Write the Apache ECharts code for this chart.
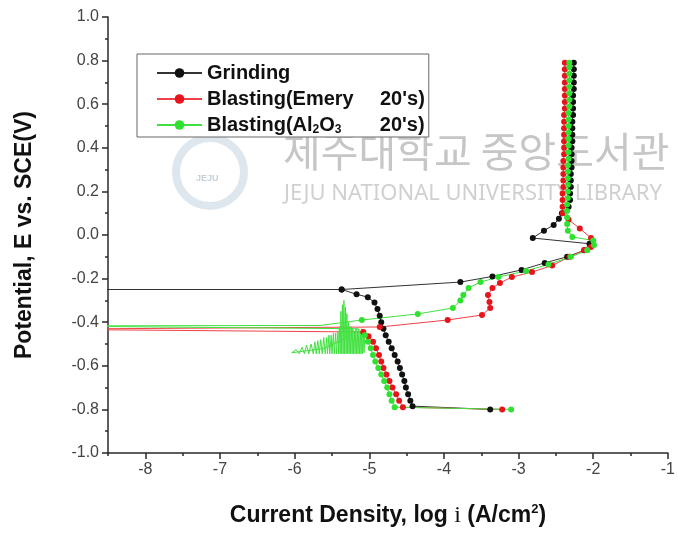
<!DOCTYPE html>
<html>
<head>
<meta charset="utf-8">
<script src="https://cdn.jsdelivr.net/npm/echarts@6/dist/echarts.min.js"></script>
<style>
    html, body { margin: 0; padding: 0; background: #fff; }
    #chart { width: 678px; height: 533px; }
</style>
</head>
<body>
<div id="chart"></div>
<script type="text/javascript">
    // series names (legend)
    var seriesNames = ['Grinding', 'Blasting(Emery 20\'s)', 'Blasting(Al2O3 20\'s)'];
    var xTickValues = [-8, -7, -6, -5, -4, -3, -2, -1];
    var xHalfTicks = [-8.5, -7.5, -6.5, -5.5, -4.5, -3.5, -2.5, -1.5];

    // [log i, E] pairs
    var grinding = [
        [-3.38, -0.80], [-4.42, -0.785],
        [-4.45, -0.76], [-4.48, -0.73], [-4.51, -0.70], [-4.53, -0.67], [-4.56, -0.64], [-4.59, -0.61],
        [-4.62, -0.58], [-4.66, -0.55], [-4.70, -0.52], [-4.74, -0.49], [-4.78, -0.46], [-4.81, -0.43],
        [-4.84, -0.40], [-4.86, -0.37], [-4.89, -0.34], [-4.93, -0.31], [-5.02, -0.285], [-5.17, -0.272],
        [-5.37, -0.25], [-9.5, -0.25], [-5.37, -0.25],
        [-3.78, -0.216], [-3.35, -0.19], [-2.96, -0.16], [-2.65, -0.128], [-2.35, -0.10], [-2.12, -0.07], [-2.05, -0.04],
        [-2.81, -0.014], [-2.66, 0.02], [-2.53, 0.046], [-2.46, 0.075], [-2.42, 0.10], [-2.33, 0.13],
        [-2.31, 0.16], [-2.31, 0.19], [-2.30, 0.22], [-2.30, 0.25], [-2.30, 0.28], [-2.29, 0.31], [-2.29, 0.34],
        [-2.29, 0.37], [-2.29, 0.40], [-2.28, 0.43], [-2.28, 0.46], [-2.28, 0.49], [-2.28, 0.52], [-2.27, 0.55],
        [-2.27, 0.58], [-2.27, 0.61], [-2.27, 0.64], [-2.26, 0.67], [-2.26, 0.70], [-2.26, 0.73], [-2.26, 0.76],
        [-2.26, 0.79]
    ];
    var emery = [
        [-3.22, -0.80], [-4.55, -0.79],
        [-4.60, -0.76], [-4.64, -0.73], [-4.69, -0.70], [-4.73, -0.67], [-4.77, -0.64], [-4.81, -0.61],
        [-4.84, -0.58], [-4.87, -0.55], [-4.91, -0.52], [-4.95, -0.49], [-5.01, -0.465], [-5.08, -0.445],
        [-9.5, -0.432],
        [-4.86, -0.422], [-3.95, -0.39], [-3.49, -0.367], [-3.38, -0.335], [-3.39, -0.307], [-3.41, -0.275],
        [-3.35, -0.243], [-3.25, -0.22], [-3.09, -0.193], [-2.82, -0.17], [-2.55, -0.14], [-2.32, -0.10],
        [-2.12, -0.069], [-2.03, -0.055], [-2.03, -0.014], [-2.18, 0.03], [-2.33, 0.07], [-2.41, 0.10],
        [-2.41, 0.13], [-2.41, 0.16], [-2.41, 0.19], [-2.40, 0.22], [-2.40, 0.25], [-2.40, 0.28], [-2.40, 0.31],
        [-2.40, 0.34], [-2.39, 0.37], [-2.39, 0.40], [-2.39, 0.43], [-2.39, 0.46], [-2.39, 0.49], [-2.39, 0.52],
        [-2.39, 0.55], [-2.38, 0.58], [-2.38, 0.61], [-2.38, 0.64], [-2.38, 0.67], [-2.38, 0.70], [-2.38, 0.73],
        [-2.38, 0.76], [-2.38, 0.79]
    ];
    var aluminaCathodic = [
        [-3.10, -0.80], [-4.66, -0.79],
        [-4.70, -0.76], [-4.73, -0.73], [-4.76, -0.70], [-4.80, -0.67], [-4.84, -0.64], [-4.88, -0.61],
        [-4.92, -0.58], [-4.95, -0.55], [-4.98, -0.52], [-5.02, -0.49], [-5.06, -0.46]
    ];
    // noisy band near the corrosion potential
    var aluminaNoise = [
        [-5.07, -0.54], [-5.08, -0.44], [-5.09, -0.545], [-5.10, -0.43], [-5.11, -0.545], [-5.12, -0.44],
        [-5.13, -0.545], [-5.14, -0.43], [-5.15, -0.545], [-5.16, -0.44], [-5.17, -0.545], [-5.18, -0.43],
        [-5.19, -0.545], [-5.20, -0.44], [-5.21, -0.545], [-5.22, -0.43], [-5.23, -0.545], [-5.24, -0.42],
        [-5.25, -0.545], [-5.26, -0.42], [-5.27, -0.545], [-5.28, -0.40], [-5.29, -0.545], [-5.30, -0.36],
        [-5.31, -0.545], [-5.32, -0.33], [-5.33, -0.545], [-5.34, -0.30], [-5.35, -0.545], [-5.36, -0.32],
        [-5.37, -0.545], [-5.38, -0.35], [-5.39, -0.545], [-5.40, -0.42], [-5.41, -0.545], [-5.42, -0.44],
        [-5.44, -0.545], [-5.45, -0.45], [-5.47, -0.545], [-5.48, -0.45], [-5.50, -0.545], [-5.51, -0.46],
        [-5.53, -0.545], [-5.54, -0.46], [-5.56, -0.545], [-5.57, -0.47], [-5.59, -0.545], [-5.61, -0.47],
        [-5.63, -0.545], [-5.65, -0.48], [-5.67, -0.545], [-5.69, -0.485], [-5.71, -0.545], [-5.73, -0.49],
        [-5.75, -0.545], [-5.78, -0.50], [-5.81, -0.545], [-5.84, -0.505], [-5.87, -0.545], [-5.90, -0.515],
        [-5.94, -0.545], [-5.98, -0.525], [-6.04, -0.54], [-5.60, -0.52], [-5.30, -0.47], [-5.15, -0.43],
        [-9.5, -0.417], [-5.66, -0.415]
    ];
    var aluminaAnodic = [
        [-5.10, -0.39], [-4.35, -0.362], [-3.88, -0.335], [-3.78, -0.30], [-3.74, -0.275], [-3.67, -0.243],
        [-3.51, -0.216], [-3.27, -0.193], [-2.90, -0.165], [-2.60, -0.135], [-2.30, -0.10], [-2.08, -0.07],
        [-1.99, -0.046], [-2.00, -0.025], [-2.28, -0.009], [-2.34, 0.02],
        [-2.35, 0.05], [-2.35, 0.08], [-2.35, 0.11], [-2.35, 0.14], [-2.34, 0.17], [-2.34, 0.20], [-2.34, 0.23],
        [-2.34, 0.26], [-2.34, 0.29], [-2.34, 0.32], [-2.33, 0.35], [-2.33, 0.38], [-2.33, 0.41], [-2.33, 0.44],
        [-2.33, 0.47], [-2.33, 0.50], [-2.33, 0.53], [-2.33, 0.56], [-2.32, 0.59], [-2.32, 0.62], [-2.32, 0.65],
        [-2.32, 0.68], [-2.32, 0.71], [-2.32, 0.74], [-2.32, 0.77], [-2.32, 0.79]
    ];

    var colors = ['#111111', '#e8141c', '#2fe22f'];

    // noisy part of the Al2O3 curve is drawn without dots
    var aluminaData = aluminaCathodic
        .concat(aluminaNoise.map(function (p) { return { value: p, symbol: 'none' }; }))
        .concat(aluminaAnodic);

    function legendText(name) {
        if (name === seriesNames[0]) return '{a|Grinding}';
        if (name === seriesNames[1]) return '{w|Blasting(Emery}{a|20\'s)}';
        return '{a|Blasting(Al}{s|2}{a|O}{s3|3}{a|20\'s)}';
    }

    var tickFont = { fontFamily: 'Liberation Sans', fontSize: 16, color: '#444' };
    var boldTxt = { fontFamily: 'Liberation Sans', fontWeight: 'bold', fontSize: 23, color: '#111' };
    var axisInk = { color: '#2a2a2a', width: 1.5 };

    var myChart = echarts.init(document.getElementById('chart'));
    var option = {
        backgroundColor: '#fff',
        animation: false,
        color: colors,
        grid: { left: 108, right: 3, top: 17, bottom: 80 },
        graphic: [
            { type: 'circle', z: 0, shape: { cx: 210, cy: 172, r: 34 }, style: { fill: 'none', stroke: '#dde7ed', lineWidth: 8 } },
            { type: 'text', z: 0, left: 196, top: 174, style: { text: 'JEJU', font: 'bold 9px "Liberation Sans"', fill: '#c5d0d8' } },
            { type: 'text', z: 0, left: 283, top: 131, style: { text: '제주대학교 중앙도서관', font: '41px "Noto Sans CJK KR"', fill: '#c6c6c6' } },
            { type: 'text', z: 0, left: 284, top: 183, style: { text: 'JEJU NATIONAL UNIVERSITY LIBRARY', font: '22px "Noto Sans"', fill: '#d0d0d0' } }
        ],
        legend: {
            orient: 'vertical',
            left: 137,
            top: 54,
            data: seriesNames,
            itemWidth: 45,
            itemHeight: 12,
            itemGap: 4,
            padding: [8, 4, 1, 19],
            borderColor: '#666',
            borderWidth: 1,
            backgroundColor: '#fff',
            formatter: legendText,
            textStyle: {
                fontFamily: 'Liberation Sans', fontWeight: 'bold', fontSize: 20, color: '#111', lineHeight: 22,
                rich: {
                    a: { fontFamily: 'Liberation Sans', fontWeight: 'bold', fontSize: 20, lineHeight: 22, verticalAlign: 'middle', color: '#111' },
                    w: { fontFamily: 'Liberation Sans', fontWeight: 'bold', fontSize: 20, lineHeight: 22, verticalAlign: 'middle', color: '#111', width: 173, align: 'left' },
                    s: { fontFamily: 'Liberation Sans', fontWeight: 'bold', fontSize: 12, lineHeight: 8, verticalAlign: 'bottom', color: '#111' },
                    s3: { fontFamily: 'Liberation Sans', fontWeight: 'bold', fontSize: 12, lineHeight: 8, verticalAlign: 'bottom', color: '#111', width: 45, align: 'left' }
                }
            }
        },
        xAxis: [{
            type: 'value',
            min: -8.5,
            max: -1,
            splitLine: { show: false },
            axisLine: { onZero: false, lineStyle: axisInk },
            axisTick: { length: 6, customValues: xTickValues, lineStyle: axisInk },
            axisLabel: Object.assign({ margin: 9, customValues: xTickValues }, tickFont),
            name: '{t|Current Density, log }{i|i}{t| (A/cm}{sup|2}{t|)}',
            nameLocation: 'middle',
            nameGap: 50,
            nameTextStyle: {
                rich: {
                    t: Object.assign({ lineHeight: 26, verticalAlign: 'middle' }, boldTxt),
                    i: { fontFamily: 'Liberation Serif', fontSize: 24, color: '#111', lineHeight: 26, verticalAlign: 'middle' },
                    sup: { fontFamily: 'Liberation Sans', fontWeight: 'bold', fontSize: 13, color: '#111', lineHeight: 8, verticalAlign: 'top' }
                }
            }
        }, {
            // short ticks at the half decades
            type: 'value',
            min: -8.5,
            max: -1,
            position: 'bottom',
            splitLine: { show: false },
            axisLine: { show: false, onZero: false },
            axisTick: { length: 3, customValues: xHalfTicks, lineStyle: axisInk },
            axisLabel: { show: false }
        }],
        yAxis: {
            type: 'value',
            min: -1,
            max: 1,
            interval: 0.2,
            splitLine: { show: false },
            axisLine: { onZero: false, lineStyle: axisInk },
            axisTick: { length: 6, lineStyle: axisInk },
            minorTick: { show: true, splitNumber: 2, length: 3, lineStyle: axisInk },
            axisLabel: Object.assign({ margin: 9, formatter: function (v) { return v.toFixed(1); } }, tickFont),
            name: 'Potential, E vs. SCE(V)',
            nameLocation: 'middle',
            nameGap: 72,
            nameTextStyle: boldTxt
        },
        series: [
            {
                name: seriesNames[0], type: 'line', data: grinding,
                symbol: 'circle', symbolSize: 6, clip: true,
                itemStyle: { color: colors[0] },
                lineStyle: { color: '#333', width: 1 }
            },
            {
                name: seriesNames[1], type: 'line', data: emery,
                symbol: 'circle', symbolSize: 6, clip: true,
                itemStyle: { color: colors[1] },
                lineStyle: { color: '#f04048', width: 1 }
            },
            {
                name: seriesNames[2], type: 'line', data: aluminaData,
                symbol: 'circle', symbolSize: 6, clip: true,
                itemStyle: { color: colors[2] },
                lineStyle: { color: '#40e040', width: 1 }
            }
        ]
    };
    myChart.setOption(option);
</script>
</body>
</html>
